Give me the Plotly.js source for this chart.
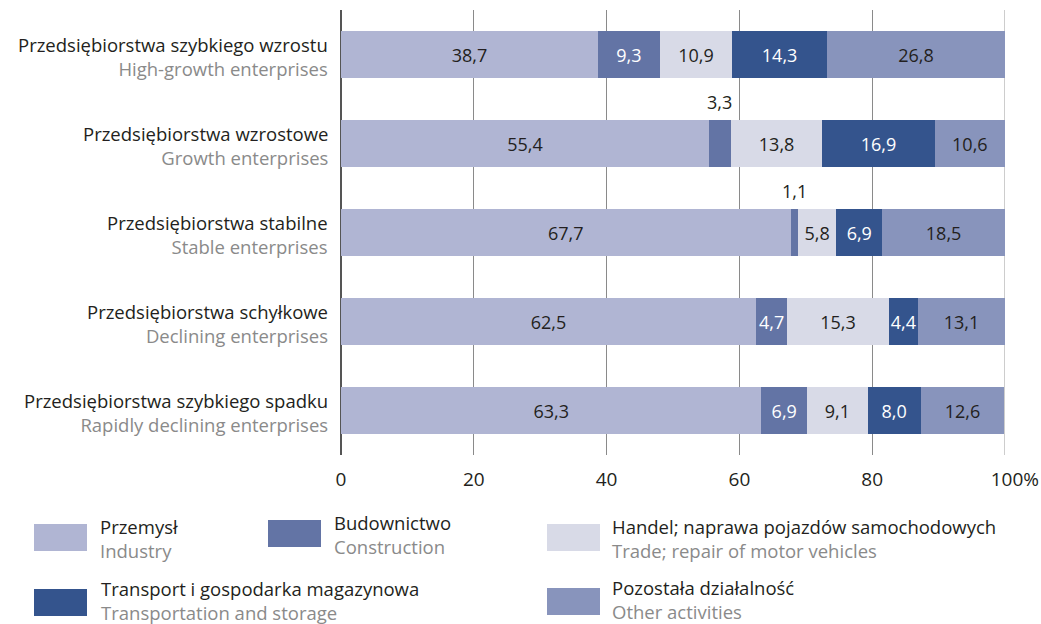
<!DOCTYPE html>
<html>
<head>
<meta charset="utf-8">
<script src="https://cdn.plot.ly/plotly-3.0.1.min.js"></script>
<style>html,body{margin:0;padding:0;background:#fff;}#chart{width:1041px;height:624px;}</style>
</head>
<body>
<div id="chart"></div>
<script>
// ---- data ----
const catsPL = ["Przedsiębiorstwa szybkiego wzrostu","Przedsiębiorstwa wzrostowe","Przedsiębiorstwa stabilne","Przedsiębiorstwa schyłkowe","Przedsiębiorstwa szybkiego spadku"];
const catsEN = ["High-growth enterprises","Growth enterprises","Stable enterprises","Declining enterprises","Rapidly declining enterprises"];
const seriesPL = ["Przemysł","Budownictwo","Handel; naprawa pojazdów samochodowych","Transport i gospodarka magazynowa","Pozostała działalność"];
const seriesEN = ["Industry","Construction","Trade; repair of motor vehicles","Transportation and storage","Other activities"];
const industry     = [38.7, 55.4, 67.7, 62.5, 63.3];
const construction = [9.3, 3.3, 1.1, 4.7, 6.9];
const trade        = [10.9, 13.8, 5.8, 15.3, 9.1];
const transport    = [14.3, 16.9, 6.9, 4.4, 8.0];
const other        = [26.8, 10.6, 18.5, 13.1, 12.6];
const xTickVals = [0, 20, 40, 60, 80, 100];
const xTickText = ["0", "20", "40", "60", "80", "\u00a0\u00a0\u00a0\u00a0100%"];

// ---- style ----
const colors = ["#b0b5d3", "#6374a5", "#d8dae7", "#34548d", "#8894bc"];
const textColors = ["#231f20", "#ffffff", "#231f20", "#ffffff", "#231f20"];
const FONT = "Open Sans";
const DARK = "#231f20", GREY = "#8a8a8a";
const LBL = 18.5, BARF = 18;

const allSeries = [industry, construction, trade, transport, other];
const fmt = v => v.toFixed(1).replace(".", ",");
const ids = catsPL.map((c, i) => i);
const twoLine = (a, b) => a + '<br><span style="color:' + GREY + '">' + b + '</span>';

const traces = allSeries.map((vals, s) => ({
  type: "bar", orientation: "h",
  x: vals, y: ids,
  name: seriesPL[s],
  marker: { color: colors[s], line: { width: 0 } },
  text: vals.map(v => v < 4 ? "" : fmt(v)),
  textposition: "inside", insidetextanchor: "middle",
  constraintext: "none", textangle: 0,
  textfont: { family: FONT, size: BARF, color: textColors[s] },
  hoverinfo: "skip", showlegend: false
}));

const L = 341, W = 664, T = 10, H = 445;
const xp = px => (px - L) / W;
const yp = py => (T + H - py) / H;

const annotations = [];
// narrow segments: label above bar
ids.forEach(i => {
  let cum = 0;
  allSeries.forEach((vals, s) => {
    const v = vals[i];
    if (v < 4) {
      annotations.push({ x: cum + v / 2, y: i, xref: "x", yref: "y", text: fmt(v), showarrow: false,
        yshift: 42, font: { family: FONT, size: BARF, color: DARK } });
    }
    cum += v;
  });
});
// category labels (two lines)
ids.forEach(i => {
  annotations.push({ x: xp(329), y: i, xref: "paper", yref: "y", xanchor: "right", yanchor: "middle", align: "right",
    showarrow: false, yshift: -2, borderpad: 0, text: twoLine(catsPL[i], catsEN[i]),
    font: { family: FONT, size: LBL, color: DARK } });
});

// legend (custom)
const legendPos = [[34, 524], [268, 520], [547, 524], [34, 589], [547, 588]];
const legendTextX = [99, 333, 611, 100, 611];
const legendTextDy = [14, 14, 14, 11, 11];
const shapes = [];
legendPos.forEach((p, s) => {
  shapes.push({ type: "rect", xref: "paper", yref: "paper", x0: xp(p[0]), x1: xp(p[0] + 53), y0: yp(p[1]), y1: yp(p[1] + 27),
    fillcolor: colors[s], line: { width: 0 } });
  annotations.push({ xref: "paper", yref: "paper", x: xp(legendTextX[s]), y: yp(p[1] + legendTextDy[s]), xanchor: "left", yanchor: "middle",
    align: "left", showarrow: false, borderpad: 0, text: twoLine(seriesPL[s], seriesEN[s]),
    font: { family: FONT, size: LBL, color: DARK } });
});
// lighter 100% line
shapes.push({ type: "line", xref: "x", yref: "paper", x0: 100, x1: 100, y0: 0, y1: 1, layer: "below", line: { color: "#bdbdbd", width: 1.5 } });

const layout = {
  width: 1041, height: 624,
  margin: { l: 341, r: 36, t: 10, b: 169 },
  paper_bgcolor: "#fff", plot_bgcolor: "#fff",
  barmode: "stack", bargap: 0.48,
  font: { family: FONT, size: LBL, color: DARK },
  xaxis: { range: [0, 100], tickvals: xTickVals, ticktext: xTickText, showgrid: true, gridcolor: "#8a8a8a", gridwidth: 1,
    zeroline: true, zerolinecolor: "#555", zerolinewidth: 1.5, showline: false,
    ticks: "outside", ticklen: 7, tickcolor: "rgba(0,0,0,0)",
    tickfont: { family: FONT, size: 19, color: DARK }, fixedrange: true },
  yaxis: { tickvals: ids, range: [4.5, -0.5], showticklabels: false, showgrid: false, zeroline: false, showline: false,
    fixedrange: true },
  shapes: shapes,
  annotations: annotations
};
Plotly.newPlot("chart", traces, layout, { displayModeBar: false, staticPlot: true });
</script>
</body>
</html>
